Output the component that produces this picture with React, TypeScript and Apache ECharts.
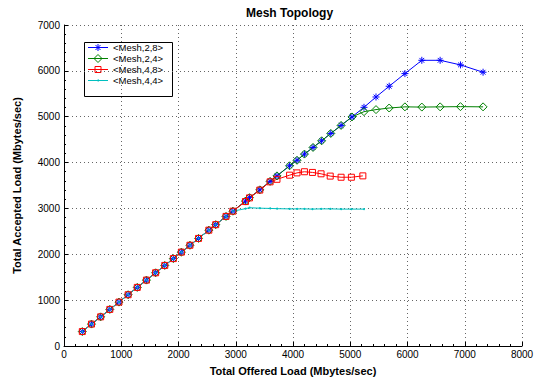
import React, { useEffect, useRef } from "react";
import * as echarts from "echarts";

const seriesNames = ["<Mesh,2,8>", "<Mesh,2,4>", "<Mesh,4,8>", "<Mesh,4,4>"];

const diagX = [320, 480, 640, 800, 960, 1120, 1280, 1440, 1600, 1760, 1910, 2050, 2200, 2350, 2530, 2650, 2830, 2950];
const diagY = [315, 478, 636, 798, 957, 1118, 1278, 1437, 1597, 1757, 1906, 2047, 2197, 2346, 2526, 2646, 2826, 2940];

const mesh28X = [3170, 3240, 3420, 3600, 3720, 3940, 4070, 4200, 4350, 4500, 4660, 4840, 5030, 5240, 5450, 5680, 5955, 6250, 6570, 6925, 7320];
const mesh28Y = [3160, 3235, 3405, 3590, 3710, 3930, 4050, 4185, 4330, 4475, 4635, 4810, 4995, 5205, 5430, 5665, 5940, 6230, 6230, 6130, 5970];

const mesh24X = [3170, 3240, 3420, 3600, 3720, 3940, 4070, 4200, 4350, 4500, 4660, 4840, 5030, 5240, 5450, 5680, 5955, 6250, 6570, 6925, 7320];
const mesh24Y = [3160, 3235, 3405, 3590, 3710, 3930, 4050, 4185, 4330, 4475, 4635, 4810, 4995, 5110, 5155, 5190, 5215, 5210, 5215, 5220, 5215];

const mesh48X = [3170, 3240, 3420, 3600, 3720, 3940, 4070, 4200, 4340, 4490, 4650, 4840, 5020, 5220];
const mesh48Y = [3150, 3230, 3400, 3580, 3635, 3725, 3775, 3800, 3785, 3755, 3705, 3680, 3680, 3710];

const mesh44X = [3170, 3240, 3420, 3600, 3720, 3940, 4070, 4200, 4340, 4490, 4650, 4840, 5020, 5240];
const mesh44Y = [2995, 3015, 3005, 3000, 2995, 2990, 2990, 2990, 2985, 2990, 2990, 2985, 2985, 2985];

const xTicks = { min: 0, max: 8000, interval: 1000 };
const yTicks = { min: 0, max: 7000, interval: 1000 };

const pairs = (xs: number[], ys: number[]) =>
  diagX.map((x, i) => [x, diagY[i]]).concat(xs.map((x, i) => [x, ys[i]]));

const FONT = "'Liberation Sans', Arial, Helvetica, sans-serif";
const ASTERISK = "path://M5 0L5 10M0 5L10 5M1.6 1.6L8.4 8.4M8.4 1.6L1.6 8.4";
const COLORS = ["#0000ff", "#008000", "#ff0000", "#00bfbf"];

function legendGraphic() {
  const box = { x: 84, y: 42, w: 88, h: 54 };
  const rowsY = [47.5, 58.5, 69.5, 80.5];
  const cx = 98;
  const children: any[] = [
    { type: "rect", shape: { x: box.x + 0.5, y: box.y + 0.5, width: box.w, height: box.h }, style: { fill: "#fff", stroke: "#000", lineWidth: 1 } },
  ];
  rowsY.forEach((y, i) => {
    const c = COLORS[i];
    children.push({ type: "line", shape: { x1: 88, y1: y, x2: 108, y2: y }, style: { stroke: c, lineWidth: 1 } });
    if (i === 0) {
      const r = 3.5;
      const d = 2.5;
      [[-r, 0, r, 0], [0, -r, 0, r], [-d, -d, d, d], [d, -d, -d, d]].forEach(([a, b, e, f]) =>
        children.push({ type: "line", shape: { x1: cx + a, y1: y + b, x2: cx + e, y2: y + f }, style: { stroke: c, lineWidth: 1 } })
      );
    } else if (i === 1) {
      children.push({ type: "polygon", shape: { points: [[cx, y - 4], [cx + 4, y], [cx, y + 4], [cx - 4, y]] }, style: { fill: "none", stroke: c, lineWidth: 1 } });
    } else if (i === 2) {
      children.push({ type: "rect", shape: { x: cx - 3, y: y - 3, width: 6, height: 6 }, style: { fill: "none", stroke: c, lineWidth: 1 } });
    } else {
      children.push({ type: "circle", shape: { cx, cy: y, r: 1 }, style: { fill: c } });
    }
    children.push({
      type: "text",
      x: 113,
      y,
      style: { text: seriesNames[i], fill: "#000", font: `9.5px ${FONT}`, verticalAlign: "middle", align: "left" },
    });
  });
  return { type: "group", z: 100, children };
}

export default function App() {
  const ref = useRef<HTMLDivElement>(null);
  useEffect(() => {
    if (!ref.current) return;
    const chart = echarts.init(ref.current, undefined, { renderer: "svg" });
    const axisCommon = {
      type: "value" as const,
      axisLine: { show: true, onZero: false, lineStyle: { color: "#000", width: 1 } },
      axisTick: { show: true, inside: true, length: 4, lineStyle: { color: "#000" } },
      minorTick: { show: true, splitNumber: 5, length: 2, lineStyle: { color: "#000" } },
      axisLabel: { color: "#000", fontSize: 10, fontFamily: FONT, formatter: (v: number) => String(v) },
      splitLine: { show: true, lineStyle: { color: "#666", width: 1, type: [1, 3] } },
      nameTextStyle: { color: "#000", fontSize: 11, fontWeight: "bold", fontFamily: FONT },
    };
    chart.setOption({
      animation: false,
      backgroundColor: "#fff",
      title: {
        text: "Mesh Topology",
        left: 246,
        top: 7,
        padding: 0,
        textStyle: { fontSize: 12, fontWeight: "bold", color: "#000", fontFamily: FONT },
      },
      grid: { left: 64, right: 12, top: 25, bottom: 31, outerBoundsMode: "none", containLabel: false },
      graphic: [legendGraphic()],
      xAxis: {
        ...axisCommon,
        ...xTicks,
        name: "Total Offered Load (Mbytes/sec)",
        nameLocation: "middle",
        nameGap: 19,
        axisLabel: { ...axisCommon.axisLabel, margin: 3 },
      },
      yAxis: {
        ...axisCommon,
        ...yTicks,
        name: "Total Accepted Load (Mbytes/sec)",
        nameLocation: "middle",
        nameGap: 42,
        axisLabel: { ...axisCommon.axisLabel, margin: 4 },
      },
      series: [
        {
          name: seriesNames[0],
          type: "line",
          data: pairs(mesh28X, mesh28Y),
          symbol: ASTERISK,
          symbolSize: 7,
          showAllSymbol: true,
          lineStyle: { color: COLORS[0], width: 1 },
          itemStyle: { color: COLORS[0], borderColor: COLORS[0], borderWidth: 1 },
        },
        {
          name: seriesNames[1],
          type: "line",
          data: pairs(mesh24X, mesh24Y),
          symbol: "diamond",
          symbolSize: 8,
          showAllSymbol: true,
          lineStyle: { color: COLORS[1], width: 1 },
          itemStyle: { color: "rgba(0,0,0,0)", borderColor: COLORS[1], borderWidth: 1 },
        },
        {
          name: seriesNames[2],
          type: "line",
          data: pairs(mesh48X, mesh48Y),
          symbol: "rect",
          symbolSize: 6,
          showAllSymbol: true,
          lineStyle: { color: COLORS[2], width: 1 },
          itemStyle: { color: "rgba(0,0,0,0)", borderColor: COLORS[2], borderWidth: 1 },
        },
        {
          name: seriesNames[3],
          type: "line",
          data: pairs(mesh44X, mesh44Y),
          symbol: "circle",
          symbolSize: 2,
          showAllSymbol: true,
          lineStyle: { color: COLORS[3], width: 1 },
          itemStyle: { color: COLORS[3] },
        },
      ],
    });
    return () => chart.dispose();
  }, []);
  return (
    <div
      ref={ref}
      style={{ position: "absolute", left: 0, top: 0, width: 534, height: 377, background: "#fff" }}
    />
  );
}
